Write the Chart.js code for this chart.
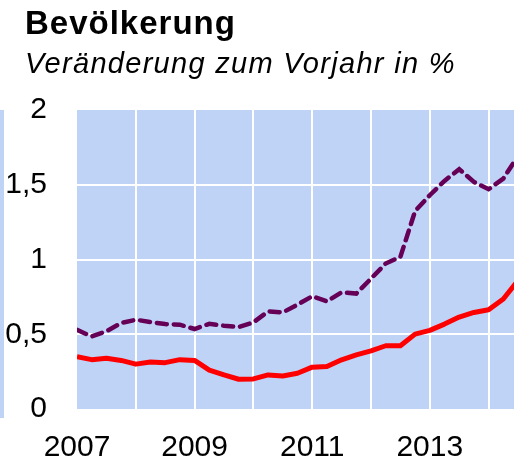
<!DOCTYPE html>
<html lang="de">
<head>
    <meta charset="UTF-8">
    <title>Bevölkerung</title>
    <script src="https://cdn.jsdelivr.net/npm/chart.js"></script>
    <style>
        html, body { margin: 0; padding: 0; background: #fff; overflow: hidden; }
        body { width: 514px; height: 461px; position: relative; font-family: 'Liberation Sans', Arial, sans-serif; }
        .title { position: absolute; left: 25px; top: 6px; font-size: 33px; line-height: 33px; font-weight: bold; letter-spacing: 1px; white-space: nowrap; }
        .subtitle { position: absolute; left: 25px; top: 49px; font-size: 29px; line-height: 29px; font-style: italic; letter-spacing: 1.3px; white-space: nowrap; }
        .chart-box { position: absolute; left: 0; top: 0; width: 518px; height: 461px; }
        .left-strip { position: absolute; left: 0; top: 110px; width: 4px; height: 308px; background: #bfd3f7; }
    </style>
</head>
<body>
    <div class="left-strip"></div>
    <div class="chart-box"><canvas id="popChart"></canvas></div>
    <div class="title">Bevölkerung</div>
    <div class="subtitle">Veränderung zum Vorjahr in %</div>
    <script>
        // Quartale (Jahr als Dezimalzahl)
        const periods = [
            2007, 2007.25, 2007.5, 2007.75,
            2008, 2008.25, 2008.5, 2008.75,
            2009, 2009.25, 2009.5, 2009.75,
            2010, 2010.25, 2010.5, 2010.75,
            2011, 2011.25, 2011.5, 2011.75,
            2012, 2012.25, 2012.5, 2012.75,
            2013, 2013.25, 2013.5, 2013.75,
            2014, 2014.25, 2014.5
        ];
        // rote Linie
        const solidSeries = [
            0.35, 0.33, 0.34, 0.325,
            0.30, 0.315, 0.31, 0.33,
            0.325, 0.26, 0.228, 0.199,
            0.201, 0.228, 0.221, 0.239,
            0.28, 0.284, 0.329, 0.362,
            0.389, 0.423, 0.423, 0.501,
            0.526, 0.568, 0.615, 0.646,
            0.664, 0.736, 0.86
        ];
        // gestrichelte Linie
        const dashedSeries = [
            0.53, 0.485, 0.52, 0.575,
            0.597, 0.582, 0.568, 0.564,
            0.535, 0.57, 0.557, 0.548,
            0.579, 0.653, 0.646, 0.698,
            0.754, 0.72, 0.781, 0.772,
            0.872, 0.973, 1.018, 1.324,
            1.43, 1.526, 1.604, 1.519,
            1.47, 1.541, 1.693
        ];
        const yearTicks = [2007, 2008, 2009, 2010, 2011, 2012, 2013, 2014];
        const yearLabels = ['2007', '', '2009', '', '2011', '', '2013', ''];
        const valueTicks = [0, 0.5, 1, 1.5, 2];
        const valueLabels = ['0', '0,5', '1', '1,5', '2'];

        const toPoints = (arr) => arr.map((v, i) => ({ x: periods[i], y: v }));

        // blauer Hintergrund der Zeichenfläche
        const plotBackground = {
            id: 'plotBackground',
            beforeDraw(chart) {
                const { ctx, chartArea } = chart;
                ctx.save();
                ctx.fillStyle = '#bfd3f7';
                ctx.fillRect(chartArea.left, chartArea.top, chartArea.right - chartArea.left, chartArea.bottom - chartArea.top);
                ctx.restore();
            }
        };

        const tickFont = { family: "'Liberation Sans', Arial, sans-serif", size: 30 };

        new Chart(document.getElementById('popChart'), {
            type: 'line',
            data: {
                datasets: [
                    {
                        label: 'Veränderung (durchgezogen)',
                        data: toPoints(solidSeries),
                        borderColor: '#ff0000',
                        borderWidth: 5,
                        pointRadius: 0,
                        tension: 0,
                        borderJoinStyle: 'round'
                    },
                    {
                        label: 'Veränderung (gestrichelt)',
                        data: toPoints(dashedSeries),
                        borderColor: '#650056',
                        borderWidth: 4.5,
                        borderDash: [10, 7],
                        borderCapStyle: 'round',
                        pointRadius: 0,
                        tension: 0
                    }
                ]
            },
            options: {
                responsive: true,
                maintainAspectRatio: false,
                animation: false,
                layout: { padding: { left: 5, top: 110, right: 0, bottom: 0 } },
                plugins: {
                    legend: { display: false },
                    tooltip: { enabled: false }
                },
                scales: {
                    x: {
                        type: 'linear',
                        min: 2007,
                        max: 2014.5,
                        afterBuildTicks: (scale) => { scale.ticks = yearTicks.map(v => ({ value: v })); },
                        afterFit: (scale) => { scale.height = 52; },
                        border: { display: false },
                        grid: {
                            drawTicks: false,
                            lineWidth: 2,
                            color: (c) => (c.tick && c.tick.value === 2007) ? 'rgba(0,0,0,0)' : '#ffffff'
                        },
                        ticks: {
                            autoSkip: false,
                            maxRotation: 0,
                            padding: 21,
                            color: '#000',
                            font: tickFont,
                            callback: (value) => yearLabels[yearTicks.indexOf(value)]
                        }
                    },
                    y: {
                        min: 0,
                        max: 2,
                        afterBuildTicks: (scale) => { scale.ticks = valueTicks.map(v => ({ value: v })); },
                        afterFit: (scale) => { scale.width = 72; },
                        border: { display: false },
                        grid: {
                            drawTicks: false,
                            lineWidth: 2,
                            color: (c) => (c.tick && (c.tick.value === 0 || c.tick.value === 2)) ? 'rgba(0,0,0,0)' : '#ffffff'
                        },
                        ticks: {
                            padding: 30,
                            color: '#000',
                            font: tickFont,
                            callback: (value) => valueLabels[valueTicks.indexOf(value)]
                        }
                    }
                }
            },
            plugins: [plotBackground]
        });
    </script>
</body>
</html>
